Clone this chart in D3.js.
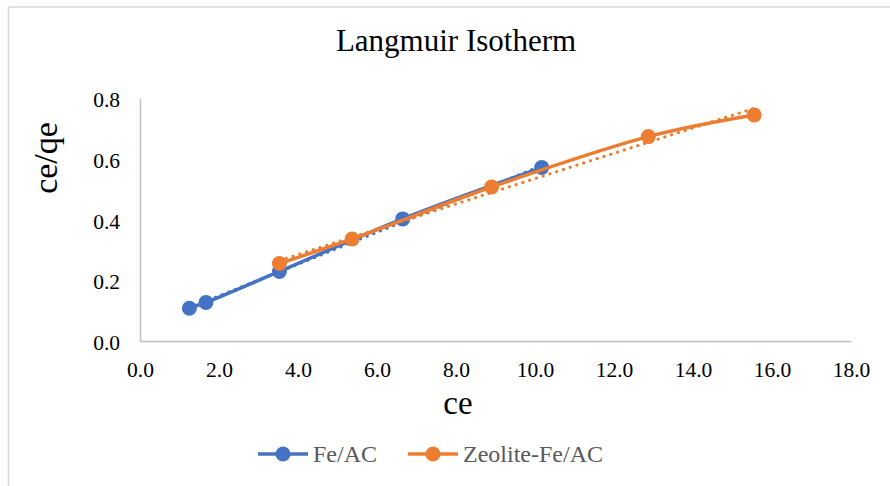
<!DOCTYPE html>
<html>
<head>
<meta charset="utf-8">
<script src="https://cdn.jsdelivr.net/npm/d3@7"></script>
<style>
  body { margin: 0; background: #fff; }
  svg text { font-family: "Liberation Serif", "Times New Roman", serif; }
</style>
</head>
<body>
<script>
// data
var feCe = [1.25, 1.67, 3.53, 6.65, 10.17];
var feRatio = [0.108, 0.127, 0.229, 0.402, 0.571];
var zeoCe = [3.53, 5.37, 8.90, 12.87, 15.55];
var zeoRatio = [0.255, 0.336, 0.507, 0.673, 0.744];
var xTicks = [0, 2, 4, 6, 8, 10, 12, 14, 16, 18];
var yTicks = [0, 0.2, 0.4, 0.6, 0.8];

var series = [
    { name: "Fe/AC", color: "#4472c4", x: feCe, y: feRatio },
    { name: "Zeolite-Fe/AC", color: "#ed7d31", x: zeoCe, y: zeoRatio }
];

var w = 890;
var h = 486;
var serif = "'Liberation Serif', 'Times New Roman', serif";

var svg = d3.select("body")
    .append("svg")
    .attr("width", w)
    .attr("height", h);

// chart border
svg.append("rect")
    .attr("x", 8.5)
    .attr("y", 7)
    .attr("width", w)
    .attr("height", h)
    .attr("fill", "none")
    .attr("stroke", "#d9d9d9")
    .attr("stroke-width", 1.5);

var x = d3.scaleLinear().domain([0, 18]).range([140, 851]);
var y = d3.scaleLinear().domain([0, 0.8]).range([341, 98]);

// axes
var xAxis = svg.append("g")
    .attr("transform", "translate(0," + y(0) + ")")
    .call(d3.axisBottom(x).tickValues(xTicks).tickSize(0).tickFormat(d3.format(".1f")));
xAxis.attr("font-family", null).attr("font-size", null);
xAxis.select(".domain").attr("stroke", "#bfbfbf").attr("stroke-width", 1.5);
xAxis.selectAll("text")
    .attr("dy", 0)
    .attr("y", 36)
    .attr("fill", "#000")
    .style("font-size", "21.5px")
    .style("font-family", serif);

var yAxis = svg.append("g")
    .attr("transform", "translate(" + x(0) + ",0)")
    .call(d3.axisLeft(y).tickValues(yTicks).tickSize(0).tickFormat(d3.format(".1f")));
yAxis.attr("font-family", null).attr("font-size", null);
yAxis.select(".domain").attr("stroke", "#bfbfbf").attr("stroke-width", 1.5);
yAxis.selectAll("text")
    .attr("x", -20)
    .attr("dy", "0.4em")
    .attr("fill", "#000")
    .style("font-size", "21.5px")
    .style("font-family", serif);

// least squares trendline
function trend(xs, ys) {
    var mx = d3.mean(xs), my = d3.mean(ys);
    var num = 0, den = 0;
    for (var i = 0; i < xs.length; i++) {
        num += (xs[i] - mx) * (ys[i] - my);
        den += (xs[i] - mx) * (xs[i] - mx);
    }
    var b = num / den;
    var a = my - b * mx;
    var x0 = d3.min(xs), x1 = d3.max(xs);
    return [[x0, a + b * x0], [x1, a + b * x1]];
}

var smooth = d3.line()
    .x(function (d) { return x(d[0]); })
    .y(function (d) { return y(d[1]); })
    .curve(d3.curveCatmullRom.alpha(0.5));

var straight = d3.line()
    .x(function (d) { return x(d[0]); })
    .y(function (d) { return y(d[1]); });

series.forEach(function (s) {
    var pts = s.x.map(function (v, i) { return [v, s.y[i]]; });

    svg.append("path")
        .attr("d", straight(trend(s.x, s.y)))
        .attr("fill", "none")
        .attr("stroke", s.color)
        .attr("stroke-width", 3.2)
        .attr("stroke-linecap", "round")
        .attr("stroke-dasharray", "0.1 7");

    svg.append("path")
        .attr("d", smooth(pts))
        .attr("fill", "none")
        .attr("stroke", s.color)
        .attr("stroke-width", 3.5);

    svg.selectAll(null)
        .data(pts)
        .enter()
        .append("circle")
        .attr("cx", function (d) { return x(d[0]); })
        .attr("cy", function (d) { return y(d[1]); })
        .attr("r", 7.5)
        .attr("fill", s.color);
});

// title and axis labels
svg.append("text")
    .text("Langmuir Isotherm")
    .attr("x", 456)
    .attr("y", 51)
    .attr("text-anchor", "middle")
    .style("font-family", serif)
    .style("font-size", "31px")
    .attr("fill", "#000");

svg.append("text")
    .text("ce")
    .attr("x", 458)
    .attr("y", 414)
    .attr("text-anchor", "middle")
    .style("font-family", serif)
    .style("font-size", "33px")
    .attr("fill", "#000");

svg.append("text")
    .text("ce/qe")
    .attr("transform", "translate(57,158) rotate(-90)")
    .attr("text-anchor", "middle")
    .style("font-family", serif)
    .style("font-size", "34px")
    .attr("fill", "#000");

// legend
var legendX = [258, 408];
series.forEach(function (s, i) {
    var g = svg.append("g").attr("transform", "translate(" + legendX[i] + ",454)");
    g.append("line")
        .attr("x1", 0).attr("x2", 50)
        .attr("stroke", s.color)
        .attr("stroke-width", 3.5);
    g.append("circle")
        .attr("cx", 25)
        .attr("r", 7.5)
        .attr("fill", s.color);
    g.append("text")
        .text(s.name)
        .attr("x", 55)
        .attr("y", 8)
        .style("font-family", serif)
        .style("font-size", "24px")
        .attr("fill", "#595959");
});
</script>
</body>
</html>
